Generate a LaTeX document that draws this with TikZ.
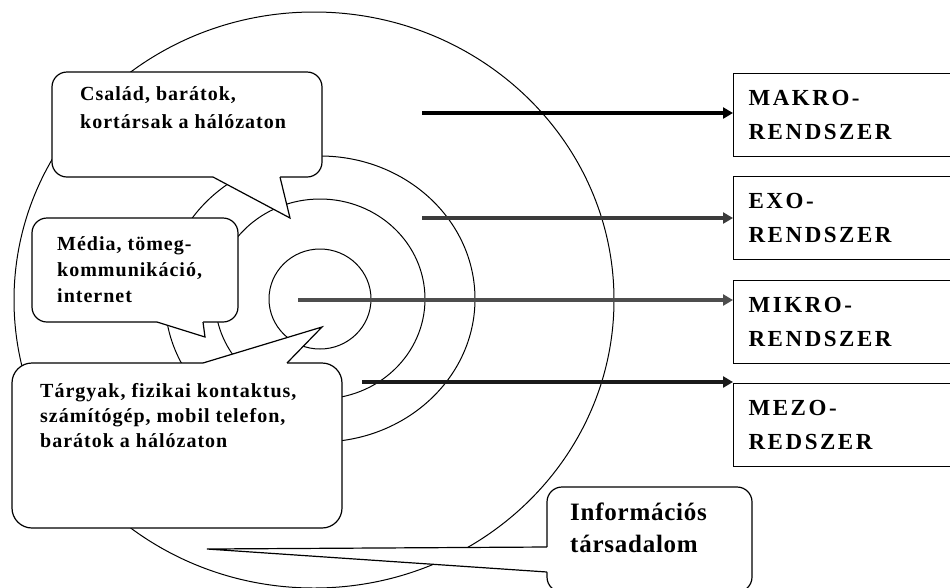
\documentclass[tikz,border=0pt]{standalone}
\usepackage{fontspec}
\setmainfont{Liberation Serif}
\usetikzlibrary{arrows.meta}
\definecolor{ecoExo}{HTML}{3B3B3B}
\definecolor{ecoMikro}{HTML}{4D4D4D}
\definecolor{ecoMezo}{HTML}{1A1A1A}
\tikzset{
  eco ring/.style={draw=black, line width=1pt},
  eco bubble/.style={draw=black, fill=white, line width=1.2pt, rounded corners=#1},
  eco tail fill/.style={fill=white},
  eco tail/.style={draw=black, line width=1.2pt, line join=miter},
  eco text/.style={anchor=north west, align=left, inner sep=0pt, font=\fontsize{20}{#1}\selectfont\bfseries\addfontfeature{LetterSpace=5}},
  eco big text/.style={anchor=north west, align=left, inner sep=0pt, font=\fontsize{25}{32}\selectfont\bfseries\addfontfeature{LetterSpace=3}},
  eco box/.style={draw=black, line width=1.2pt, anchor=north west, minimum height=83pt, text width=200pt, inner xsep=15pt, align=left, font=\fontsize{23}{34}\selectfont\bfseries\addfontfeature{LetterSpace=11}},
  eco arrow/.style={line width=4pt, -{Triangle[length=10pt,width=11pt]}},
}
\begin{document}
\begin{tikzpicture}[x=1pt,y=-1pt]
  \useasboundingbox (0,0) rectangle (950,587);
  \clip (0,0) rectangle (950,587);
  % rings
  \draw[eco ring] (314,300) ellipse [x radius=300pt,y radius=288pt];
  \foreach \rx/\ry in {155/143,105/100,51/50}{\draw[eco ring] (320,299) ellipse [x radius=\rx pt,y radius=\ry pt];}
  % speech bubbles with their tails
  \draw[eco bubble=15pt] (52,72) rectangle (322,177);
  \fill[eco tail fill] (213,172) -- (213,177) -- (290,218) -- (280,177) -- (280,172) -- cycle;
  \draw[eco tail] (213,177) -- (290,218) -- (280,177);
  \draw[eco bubble=15pt] (32,218) rectangle (238,322);
  \fill[eco tail fill] (157,317) -- (157,322) -- (205,337) -- (203,322) -- (203,317) -- cycle;
  \draw[eco tail] (157,322) -- (205,337) -- (203,322);
  \draw[eco bubble=20pt] (12,363) rectangle (342,528);
  \fill[eco tail fill] (203,368) -- (203,363) -- (322,327) -- (287,363) -- (287,368) -- cycle;
  \draw[eco tail] (203,363) -- (322,327) -- (287,363);
  \draw[eco bubble=15pt] (547,487) rectangle (752,592);
  \fill[eco tail fill] (552,547) -- (547,547) -- (207,549) -- (547,572) -- (552,572) -- cycle;
  \draw[eco tail] (547,547) -- (207,549) -- (547,572);
  \node[eco text=28] (familyText) at (80,86) {Család, barátok,\\kortársak a hálózaton};
  \node[eco text=26] (mediaText) at (57,236) {Média, tömeg-\\kommunikáció,\\internet};
  \node[eco text=25] (objectText) at (40,383) {Tárgyak, fizikai kontaktus,\\számítógép, mobil telefon,\\barátok a hálózaton};
  \node[eco big text] (societyText) at (570,503) {Információs\\társadalom};
  % system boxes
  \node[eco box] (makro) at (733,73) {MAKRO-\\RENDSZER};
  \node[eco box] (exo) at (733,176) {EXO-\\RENDSZER};
  \node[eco box] (mikro) at (733,280) {MIKRO-\\RENDSZER};
  \node[eco box] (mezo) at (733,383) {MEZO-\\REDSZER};
  \coordinate (makro-start) at (422,113);
  \coordinate (exo-start) at (422,218);
  \coordinate (mikro-start) at (298,300);
  \coordinate (mezo-start) at (362,382);
  \foreach \n/\c in {makro/black,exo/ecoExo,mikro/ecoMikro,mezo/ecoMezo}{\draw[eco arrow,\c] (\n-start) -- (\n-start -| \n.west);}
\end{tikzpicture}
\end{document}
